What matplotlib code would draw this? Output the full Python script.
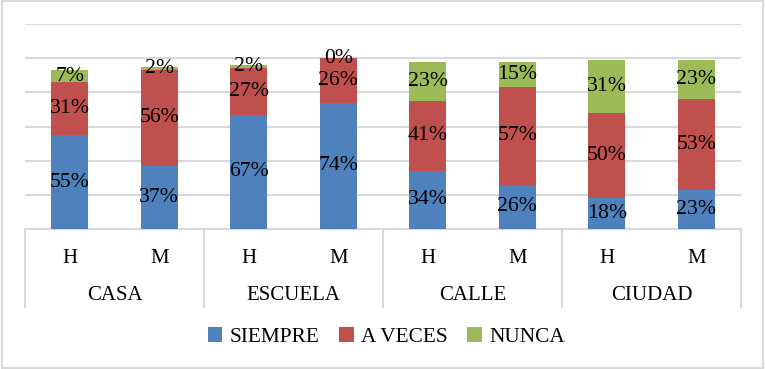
import matplotlib
matplotlib.use("Agg")
import matplotlib.pyplot as plt
import matplotlib.transforms as mtransforms
import numpy as np

plt.rcParams['font.family'] = ['Liberation Serif', 'DejaVu Serif']

grupos = ["CASA", "ESCUELA", "CALLE", "CIUDAD"]
sexos = ["H", "M"]
siempre = [55, 37, 67, 74, 34, 26, 18, 23]
a_veces = [31, 56, 27, 26, 41, 57, 50, 53]
nunca = [7, 2, 2, 0, 23, 15, 31, 23]
series = ["SIEMPRE", "A VECES", "NUNCA"]
colores = ["#4F81BD", "#C0504D", "#9BBB59"]

fig = plt.figure(figsize=(7.65, 3.69), dpi=100)
ax = fig.add_axes([25/765, 1-229/369, 716/765, 205/369])

x = np.arange(len(siempre))
datos = [np.array(siempre)/100, np.array(a_veces)/100, np.array(nunca)/100]
base = np.zeros(len(x))
for vals, nombre, c in zip(datos, series, colores):
    ax.bar(x, vals, width=0.41, bottom=base, color=c, label=nombre, zorder=3)
    for xi, b, v in zip(x, base, vals):
        ax.text(xi, b + v/2, f"{round(v*100)}%", ha="center", va="center",
                fontsize=15.7, color="black", zorder=4)
    base = base + vals

ax.set_xlim(-0.5, len(x) - 0.5)
ax.set_ylim(0, 1.2)
ax.set_yticks(np.arange(0, 1.21, 0.2))
ax.yaxis.grid(True, color="#D9D9D9", linewidth=1.5, zorder=0)
ax.tick_params(left=False, labelleft=False, bottom=False, labelbottom=False)
for s in ["top", "right", "left"]:
    ax.spines[s].set_visible(False)
ax.spines["bottom"].set_color("#D9D9D9")
ax.spines["bottom"].set_linewidth(1.5)

trans = mtransforms.blended_transform_factory(ax.transData, ax.transAxes)
for i, xi in enumerate(x):
    ax.text(xi, -0.145, sexos[i % 2], transform=trans, ha="center", va="center", fontsize=15)
for g, nombre in enumerate(grupos):
    ax.text(2*g + 0.5, -0.325, nombre, transform=trans, ha="center", va="center", fontsize=15)
for sep in np.arange(-0.5, len(x), 2):
    ax.plot([sep, sep], [0, -0.38], transform=trans, color="#D9D9D9",
            linewidth=1.5, clip_on=False)

fig.legend(loc="center", bbox_to_anchor=(0.505, 1-337/369), ncol=3, frameon=False,
           fontsize=15.3, handlelength=0.7, handleheight=0.7, handletextpad=0.35,
           columnspacing=0.9)

fig.patches.append(plt.Rectangle((0.002, 0.004), 0.996, 0.992, transform=fig.transFigure,
                                 fill=False, edgecolor="#D9D9D9", linewidth=1.5))

fig.savefig("out.png", dpi=100)
